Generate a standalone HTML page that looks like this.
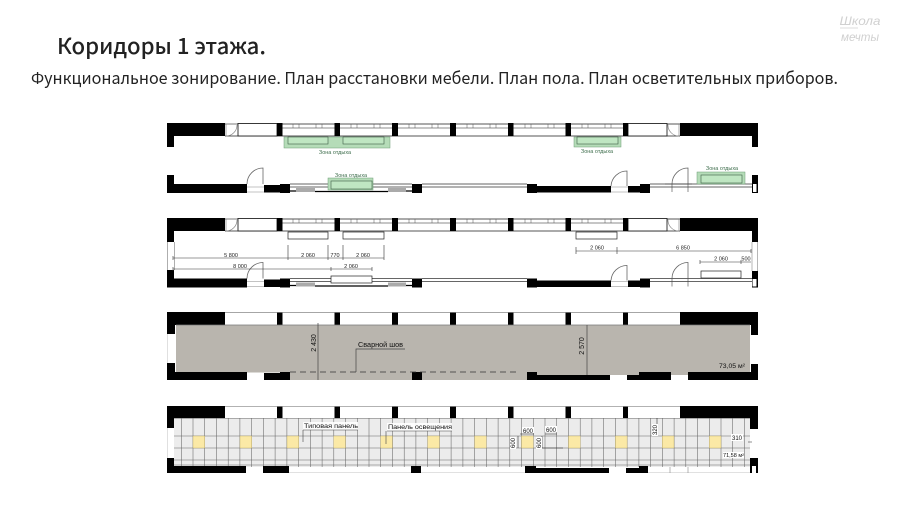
<!DOCTYPE html>
<html><head><meta charset="utf-8"><style>
html,body{margin:0;padding:0;background:#fff;width:900px;height:506px;overflow:hidden}
svg{display:block}
text{font-family:"Liberation Sans","Noto Sans CJK SC",sans-serif}
.t{font-family:"Noto Sans CJK SC","Liberation Sans",sans-serif}
.d{font-size:5.5px;fill:#222;text-anchor:middle}
.z{font-size:5.5px;fill:#3d6d4c;text-anchor:middle}
.l{stroke:#333;stroke-width:.6;fill:none}
</style></head><body>
<svg width="900" height="506" viewBox="0 0 900 506" xmlns="http://www.w3.org/2000/svg">
<defs>
<filter id="b" x="0" y="0" width="100%" height="100%"><feGaussianBlur stdDeviation="0.35"/></filter>
<g id="piers" fill="#000">
<rect x="167" y="123" width="58" height="13"/><rect x="277" y="123" width="5.5" height="13"/><rect x="334.500" y="123" width="5.500" height="13"/><rect x="392" y="123" width="6" height="13"/><rect x="450" y="123" width="6" height="13"/><rect x="508" y="123" width="5.500" height="13"/><rect x="565.500" y="123" width="5.500" height="13"/><rect x="623" y="123" width="5" height="13"/><rect x="680" y="123" width="78" height="13"/>
</g>
<g id="frames">
<path d="M225 124H680M225 136H680" stroke="#555" stroke-width=".9" fill="none"/>
<path d="M282 128H623" stroke="#666" stroke-width=".7"/>
<rect x="238" y="123.500" width="39" height="12.500" fill="#fff" stroke="#222" stroke-width=".9"/>
<rect x="628" y="123.500" width="39" height="12.500" fill="#fff" stroke="#222" stroke-width=".9"/>
<path d="M226 136V124H237M226 136A11 11 0 0 0 237 125M668 124A11 11 0 0 0 679 136M679 136V124" stroke="#888" stroke-width=".7" fill="none"/>
<path d="M293 124v4M299 124v4M316 124v4M322 124v4M351 124v4M357 124v4M374 124v4M380 124v4M409 124v4M415 124v4M432 124v4M438 124v4M467 124v4M473 124v4M490 124v4M496 124v4M525 124v4M531 124v4M548 124v4M554 124v4M582 124v4M588 124v4M605 124v4M611 124v4" stroke="#555" stroke-width=".5"/>
</g>
<g id="bottom">
<path d="M290 184H412M290 187H412M422 184H527M422 187H527M650 184H752M650 187H752" stroke="#666" stroke-width=".9" fill="none"/>
<rect x="167" y="184" width="80" height="9" fill="#000"/><rect x="264" y="185" width="26" height="7.500" fill="#000"/><rect x="280" y="184" width="10" height="9" fill="#000"/><rect x="412" y="184" width="10" height="9" fill="#000"/>
<rect x="527" y="184" width="10" height="9" fill="#000"/><rect x="537" y="186" width="74" height="6.500" fill="#000"/><rect x="628" y="186" width="13" height="6.500" fill="#000"/><rect x="640" y="184" width="10" height="9" fill="#000"/>
<rect x="296" y="188" width="19" height="4" fill="#aaa"/><rect x="388" y="188" width="18" height="4" fill="#aaa"/>
<path d="M290 191H296M315 191.500H388M406 191H412" stroke="#000" stroke-width="1.200"/>
<path d="M247 184A16 16 0 0 1 263 168V184M611 186A16 16 0 0 1 627 171V186" stroke="#666" stroke-width=".8" fill="none"/>
<path d="M247 187H264M247 192H264M611 187H628M611 192H628" stroke="#888" stroke-width=".6"/>
<path d="M672 184A16 16 0 0 1 688 168V184" stroke="#666" stroke-width=".8" fill="none"/>
<path d="M672 184V192M688 184V192" stroke="#444" stroke-width=".6"/>
</g>
</defs>

<text class="t" x="57" y="54" font-size="22" fill="#222" textLength="209" lengthAdjust="spacingAndGlyphs" style="font-weight:500">Коридоры 1 этажа.</text>
<text class="t" x="31" y="84" font-size="16.500" fill="#222" textLength="807" lengthAdjust="spacingAndGlyphs">Функциональное зонирование. План расстановки мебели. План пола. План осветительных приборов.</text>
<text x="860" y="25" font-size="12" font-style="italic" fill="#d0d0d0" text-anchor="middle" textLength="41" lengthAdjust="spacingAndGlyphs">Школа</text>
<text x="860" y="41" font-size="12" font-style="italic" fill="#d0d0d0" text-anchor="middle" textLength="38" lengthAdjust="spacingAndGlyphs">мечты</text>
<path d="M840 28H858" stroke="#ddd" stroke-width="1"/>

<g filter="url(#b)">
<!-- Plan 1 -->
<use href="#frames"/><use href="#piers"/>
<rect x="167" y="123" width="7" height="24" fill="#000"/><rect x="752" y="123" width="6" height="24" fill="#000"/>
<rect x="167" y="175" width="7" height="18" fill="#000"/><rect x="752" y="175" width="6" height="18" fill="#000"/><rect x="753" y="184" width="3.500" height="8" fill="#fff"/>
<use href="#bottom"/>
<path d="M665 184H692" stroke="#444" stroke-width=".8"/>
<rect x="284" y="137" width="106" height="11" fill="#b5dcb8" stroke="#6d9c75" stroke-width=".5"/>
<rect x="288" y="137" width="40" height="7" fill="#bfe6c2" stroke="#3c5c44" stroke-width=".6"/><rect x="343" y="137" width="41" height="7" fill="#bfe6c2" stroke="#3c5c44" stroke-width=".6"/>
<rect x="574" y="137" width="47" height="10" fill="#b5dcb8" stroke="#6d9c75" stroke-width=".5"/><rect x="577" y="137" width="41" height="7" fill="#bfe6c2" stroke="#3c5c44" stroke-width=".6"/>
<rect x="328" y="178" width="45" height="12" fill="#b5dcb8" stroke="#6d9c75" stroke-width=".5"/><rect x="331" y="181" width="41" height="8" fill="#bfe6c2" stroke="#3c5c44" stroke-width=".6"/>
<rect x="697" y="172" width="48" height="12" fill="#b5dcb8" stroke="#6d9c75" stroke-width=".5"/><rect x="701" y="175" width="41" height="8" fill="#bfe6c2" stroke="#3c5c44" stroke-width=".6"/>
<text class="z" x="335" y="154">Зона отдыха</text><text class="z" x="597" y="153">Зона отдыха</text><text class="z" x="351" y="177">Зона отдыха</text><text class="z" x="722" y="170">Зона отдыха</text>

<!-- Plan 2 -->
<g transform="translate(0,95)"><use href="#frames"/><use href="#piers"/><use href="#bottom" transform="translate(0,-.5)"/></g>
<rect x="167" y="218" width="7" height="24" fill="#000"/><rect x="174" y="242" width=".6" height="28" fill="#777"/><rect x="167" y="242" width=".6" height="28" fill="#777"/><rect x="167" y="270" width="7" height="17" fill="#000"/>
<rect x="752" y="218" width="6" height="24" fill="#000"/><path d="M752 242V271M757.500 242V271" stroke="#888" stroke-width=".6"/><rect x="752" y="271" width="6" height="16.500" fill="#000"/><rect x="752.500" y="279" width="4" height="7.500" fill="#fff"/>
<g fill="#fff" stroke="#222" stroke-width=".7"><rect x="288" y="232" width="40" height="7"/><rect x="343" y="232" width="41" height="7"/><rect x="576" y="232" width="41" height="7"/><rect x="331" y="276" width="41" height="7"/><rect x="701" y="271" width="40" height="7"/></g>
<path class="l" d="M173 258H384M173 269H372M576 251H751M700 262H751M288 245V260M328 245V260M343 245V260M384 245V260M331 267V271M372 267V271M576 247V254M617 247V254M700 260V264M741 260V264M173 256V260M173 267V271M751 249V253"/>
<text class="d" x="231" y="257">5 800</text><text class="d" x="308" y="257">2 060</text><text class="d" x="335" y="257">770</text><text class="d" x="363" y="257">2 060</text><text class="d" x="240" y="268">8 000</text><text class="d" x="351" y="268">2 060</text><text class="d" x="597" y="249.500">2 060</text><text class="d" x="683" y="249.500">6 850</text><text class="d" x="721" y="260.500">2 060</text><text class="d" x="746" y="260.500">500</text>

<!-- Plan 3 -->
<use href="#piers" transform="translate(0,189)"/>
<path d="M225 312.500H680" stroke="#888" stroke-width=".8"/>
<rect x="176" y="325" width="574" height="47.500" fill="#b9b5ae"/><rect x="290" y="372" width="122" height="8" fill="#b9b5ae"/><rect x="422" y="372" width="105" height="8" fill="#b9b5ae"/><rect x="537" y="372" width="213" height="3" fill="#b9b5ae"/>
<path d="M176 325H750" stroke="#777" stroke-width=".7"/>
<rect x="167" y="312" width="8" height="22" fill="#000"/><rect x="167" y="363" width="8" height="17" fill="#000"/><path d="M167 334V363" stroke="#999" stroke-width=".6"/>
<rect x="751" y="312" width="7" height="23" fill="#000"/><rect x="751" y="364" width="7" height="16" fill="#000"/>
<path fill="#000" d="M167 372H247V380H167ZM264 373H290V380H264ZM280 372H290V380H280ZM412 372H422V380H412ZM527 372H537V380H527ZM537 375H610V380H537ZM627 375H639V380H627ZM639 372H671V380H639ZM688 372H758V380H688Z"/>
<path d="M290 372H520" stroke="#333" stroke-width=".7" stroke-dasharray="6 4" fill="none"/>
<path d="M318 323V380M587 325V375M356 372V349H405" stroke="#444" stroke-width=".7" fill="none"/>
<text x="319" y="346" font-size="7" fill="#111" text-anchor="middle" transform="rotate(-90 316 346)">2 430</text>
<text x="587" y="349" font-size="7" fill="#111" text-anchor="middle" transform="rotate(-90 584 349)">2 570</text>
<text x="358" y="347" font-size="7" fill="#111" textLength="45" lengthAdjust="spacingAndGlyphs">Сварной шов</text>
<text x="719" y="368" font-size="6" fill="#111" textLength="26" lengthAdjust="spacingAndGlyphs">73,05 м²</text>

<!-- Plan 4 -->
<use href="#piers" transform="translate(0,283)"/>
<path d="M225 406.500H680" stroke="#999" stroke-width=".8"/>
<rect x="174" y="418" width="576" height="49" fill="#ececec"/>
<path id="vg" stroke="#666" stroke-width=".55" fill="none" d="M181.300 418V467M193 418V467M204.700 418V467M216.500 418V467M228.200 418V467M239.900 418V467M251.700 418V467M263.400 418V467M275.100 418V467M286.900 418V467M298.600 418V467M310.300 418V467M322.100 418V467M333.800 418V467M345.500 418V467M357.300 418V467M369 418V467M380.700 418V467M392.500 418V467M404.200 418V467M415.900 418V467M427.700 418V467M439.400 418V467M451.100 418V467M462.900 418V467M474.600 418V467M486.300 418V467M498.100 418V467M509.800 418V467M521.500 418V467M533.300 418V467M545 418V467M556.700 418V467M568.500 418V467M580.200 418V467M591.900 418V467M603.700 418V467M615.400 418V467M627.100 418V467M638.900 418V467M650.600 418V467M662.300 418V467M674.100 418V467M685.800 418V467M697.500 418V467M709.300 418V467M721 418V467M732.700 418V467M744.500 418V467"/>
<path stroke="#666" stroke-width=".55" fill="none" d="M174 418.500H750M174 436H750M174 448H750M174 460H750M174 465H750"/>
<g fill="#fbe9a6" stroke="#b7a566" stroke-width=".4">
<rect x="193" y="436" width="11.700" height="12"/><rect x="240" y="436" width="11.700" height="12"/><rect x="287" y="436" width="11.700" height="12"/><rect x="333.800" y="436" width="11.700" height="12"/><rect x="380.700" y="436" width="11.700" height="12"/><rect x="427.700" y="436" width="11.700" height="12"/><rect x="474.600" y="436" width="11.700" height="12"/><rect x="521.500" y="436" width="11.700" height="12"/><rect x="568.500" y="436" width="11.700" height="12"/><rect x="615.400" y="436" width="11.700" height="12"/><rect x="662.300" y="436" width="11.700" height="12"/><rect x="709.300" y="436" width="11.700" height="12"/>
</g>
<rect x="167" y="406" width="7" height="22" fill="#000"/><rect x="167" y="458" width="7" height="15" fill="#000"/><path d="M167 428V458" stroke="#999" stroke-width=".6"/>
<rect x="750" y="406" width="8" height="23" fill="#000"/><rect x="750" y="458" width="8" height="15" fill="#000"/><rect x="752" y="466" width="4" height="7" fill="#fff"/>
<path fill="#000" d="M167 466H246V473H167ZM263 466H289V473H263ZM411 466H421V473H411ZM525 466H536V473H525ZM536 468H609V473H536ZM626 468H639V473H626ZM639 466H648V473H639Z"/>
<path d="M289 473H411M421 473H525M648 473H750M670 467V473M688 467V473" stroke="#888" stroke-width=".6"/>
<rect x="303" y="422" width="55" height="8" fill="#fff" opacity=".9"/><rect x="387" y="423" width="65" height="8" fill="#fff" opacity=".9"/>
<path d="M303 430H358M303 430V442M387 431H452M386 431V444" stroke="#444" stroke-width=".6" fill="none"/>
<text x="304" y="428" font-size="6.500" fill="#111" textLength="54" lengthAdjust="spacingAndGlyphs">Типовая панель</text>
<text x="388" y="429" font-size="6.500" fill="#111" textLength="64" lengthAdjust="spacingAndGlyphs">Панель освещения</text>
<path d="M520 434H534M545 434H557M518 436V448M542 436V448M542 448H563M657 418V430M748 442H752" stroke="#222" stroke-width=".55" fill="none"/>
<rect x="522" y="427" width="12" height="6" fill="#fff"/><rect x="545" y="426" width="12" height="6" fill="#fff"/><rect x="510" y="437" width="6" height="12" fill="#fff"/><rect x="536" y="437" width="6" height="12" fill="#fff"/><rect x="652" y="424" width="6" height="12" fill="#fff"/><rect x="731" y="434" width="12" height="7" fill="#fff"/><rect x="723" y="452" width="21" height="6" fill="#fff"/>
<text x="528" y="433" font-size="6" fill="#111" text-anchor="middle">600</text><text x="551" y="432" font-size="6" fill="#111" text-anchor="middle">600</text>
<text x="513" y="443" font-size="6" fill="#111" text-anchor="middle" transform="rotate(-90 513 443)" dy="2">600</text><text x="539" y="443" font-size="6" fill="#111" text-anchor="middle" transform="rotate(-90 539 443)" dy="2">600</text>
<text x="655" y="430" font-size="6" fill="#111" text-anchor="middle" transform="rotate(-90 655 430)" dy="2">320</text>
<text x="737" y="440" font-size="6" fill="#111" text-anchor="middle">310</text>
<text x="723" y="457" font-size="5" fill="#111" textLength="21" lengthAdjust="spacingAndGlyphs">71,58 м²</text>
</g>
</svg>
</body></html>
